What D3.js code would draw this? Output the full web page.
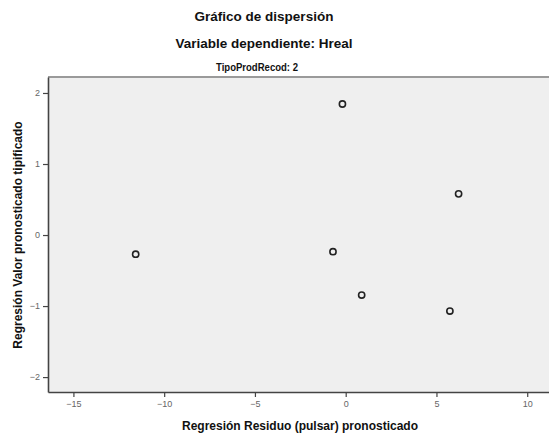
<!DOCTYPE html>
<html><head><meta charset="utf-8">
<script src="https://cdn.jsdelivr.net/npm/d3@7"></script>
<style>body{margin:0;background:#fff}svg{display:block}</style>
</head><body>
<svg id="c" width="549" height="437"></svg>
<script>
const residuo = [-0.18, 6.22, -11.57, -0.70, 0.88, 5.74];
const valorTipificado = [1.845, 0.58, -0.27, -0.235, -0.845, -1.07];
const xTicks = [-15, -10, -5, 0, 5, 10];
const yTicks = [-2, -1, 0, 1, 2];
const titles = ["Gráfico de dispersión", "Variable dependiente: Hreal", "TipoProdRecod: 2"];
const xTitle = "Regresión Residuo (pulsar) pronosticado";
const yTitle = "Regresión Valor pronosticado tipificado";

const svg = d3.select("#c");
const L = 48, R = 549, T = 77, B = 392;
const x = d3.scaleLinear().domain([-16.4, 11.2]).range([L, R]);
const y = d3.scaleLinear().domain([-2.21, 2.225]).range([B, T]);

svg.append("rect").attr("x", L).attr("y", T).attr("width", R - L).attr("height", B - T).attr("fill", "#efefef");
svg.append("line").attr("x1", L).attr("x2", R).attr("y1", T).attr("y2", T).attr("stroke", "#9a9a9a").attr("stroke-width", 2);

const font = "Arial, 'Liberation Sans', sans-serif";
const xa = svg.append("g").attr("transform", `translate(0,${B})`)
  .call(d3.axisBottom(x).tickValues(xTicks).tickSizeInner(5).tickSizeOuter(0).tickPadding(4).tickFormat(d3.format("d")));
const ya = svg.append("g").attr("transform", `translate(${L},0)`)
  .call(d3.axisLeft(y).tickValues(yTicks).tickSizeInner(5).tickSizeOuter(0).tickPadding(3).tickFormat(d3.format("d")));
[xa, ya].forEach(g => {
  g.select(".domain").attr("stroke", "#444").attr("stroke-width", 1.6);
  g.selectAll(".tick line").attr("stroke", "#444").attr("stroke-width", 1.2);
  g.selectAll(".tick text").attr("fill", "#666").attr("font-size", 9).attr("font-family", font);
});

svg.append("g").selectAll("circle").data(residuo.map((v, i) => [v, valorTipificado[i]]))
  .join("circle").attr("cx", d => x(d[0])).attr("cy", d => y(d[1])).attr("r", 3.1)
  .attr("fill", "none").attr("stroke", "#222").attr("stroke-width", 1.6);

svg.append("text").attr("x", 264).attr("y", 21).attr("text-anchor", "middle")
  .attr("font-family", font).attr("font-weight", "bold").attr("font-size", 13.5).attr("fill", "#111").text(titles[0]);
svg.append("text").attr("x", 264).attr("y", 48).attr("text-anchor", "middle")
  .attr("font-family", font).attr("font-weight", "bold").attr("font-size", 13.5).attr("fill", "#111").text(titles[1]);
svg.append("text").attr("x", 257).attr("y", 71).attr("text-anchor", "middle")
  .attr("font-family", font).attr("font-weight", "bold").attr("font-size", 11).attr("fill", "#111")
  .attr("textLength", 82).attr("lengthAdjust", "spacingAndGlyphs").text(titles[2]);
svg.append("text").attr("x", 300).attr("y", 430).attr("text-anchor", "middle")
  .attr("font-family", font).attr("font-weight", "bold").attr("font-size", 12).attr("fill", "#111").text(xTitle);
svg.append("text").attr("transform", "translate(22,235) rotate(-90)").attr("text-anchor", "middle")
  .attr("font-family", font).attr("font-weight", "bold").attr("font-size", 12).attr("fill", "#111").text(yTitle);
</script>
</body></html>
